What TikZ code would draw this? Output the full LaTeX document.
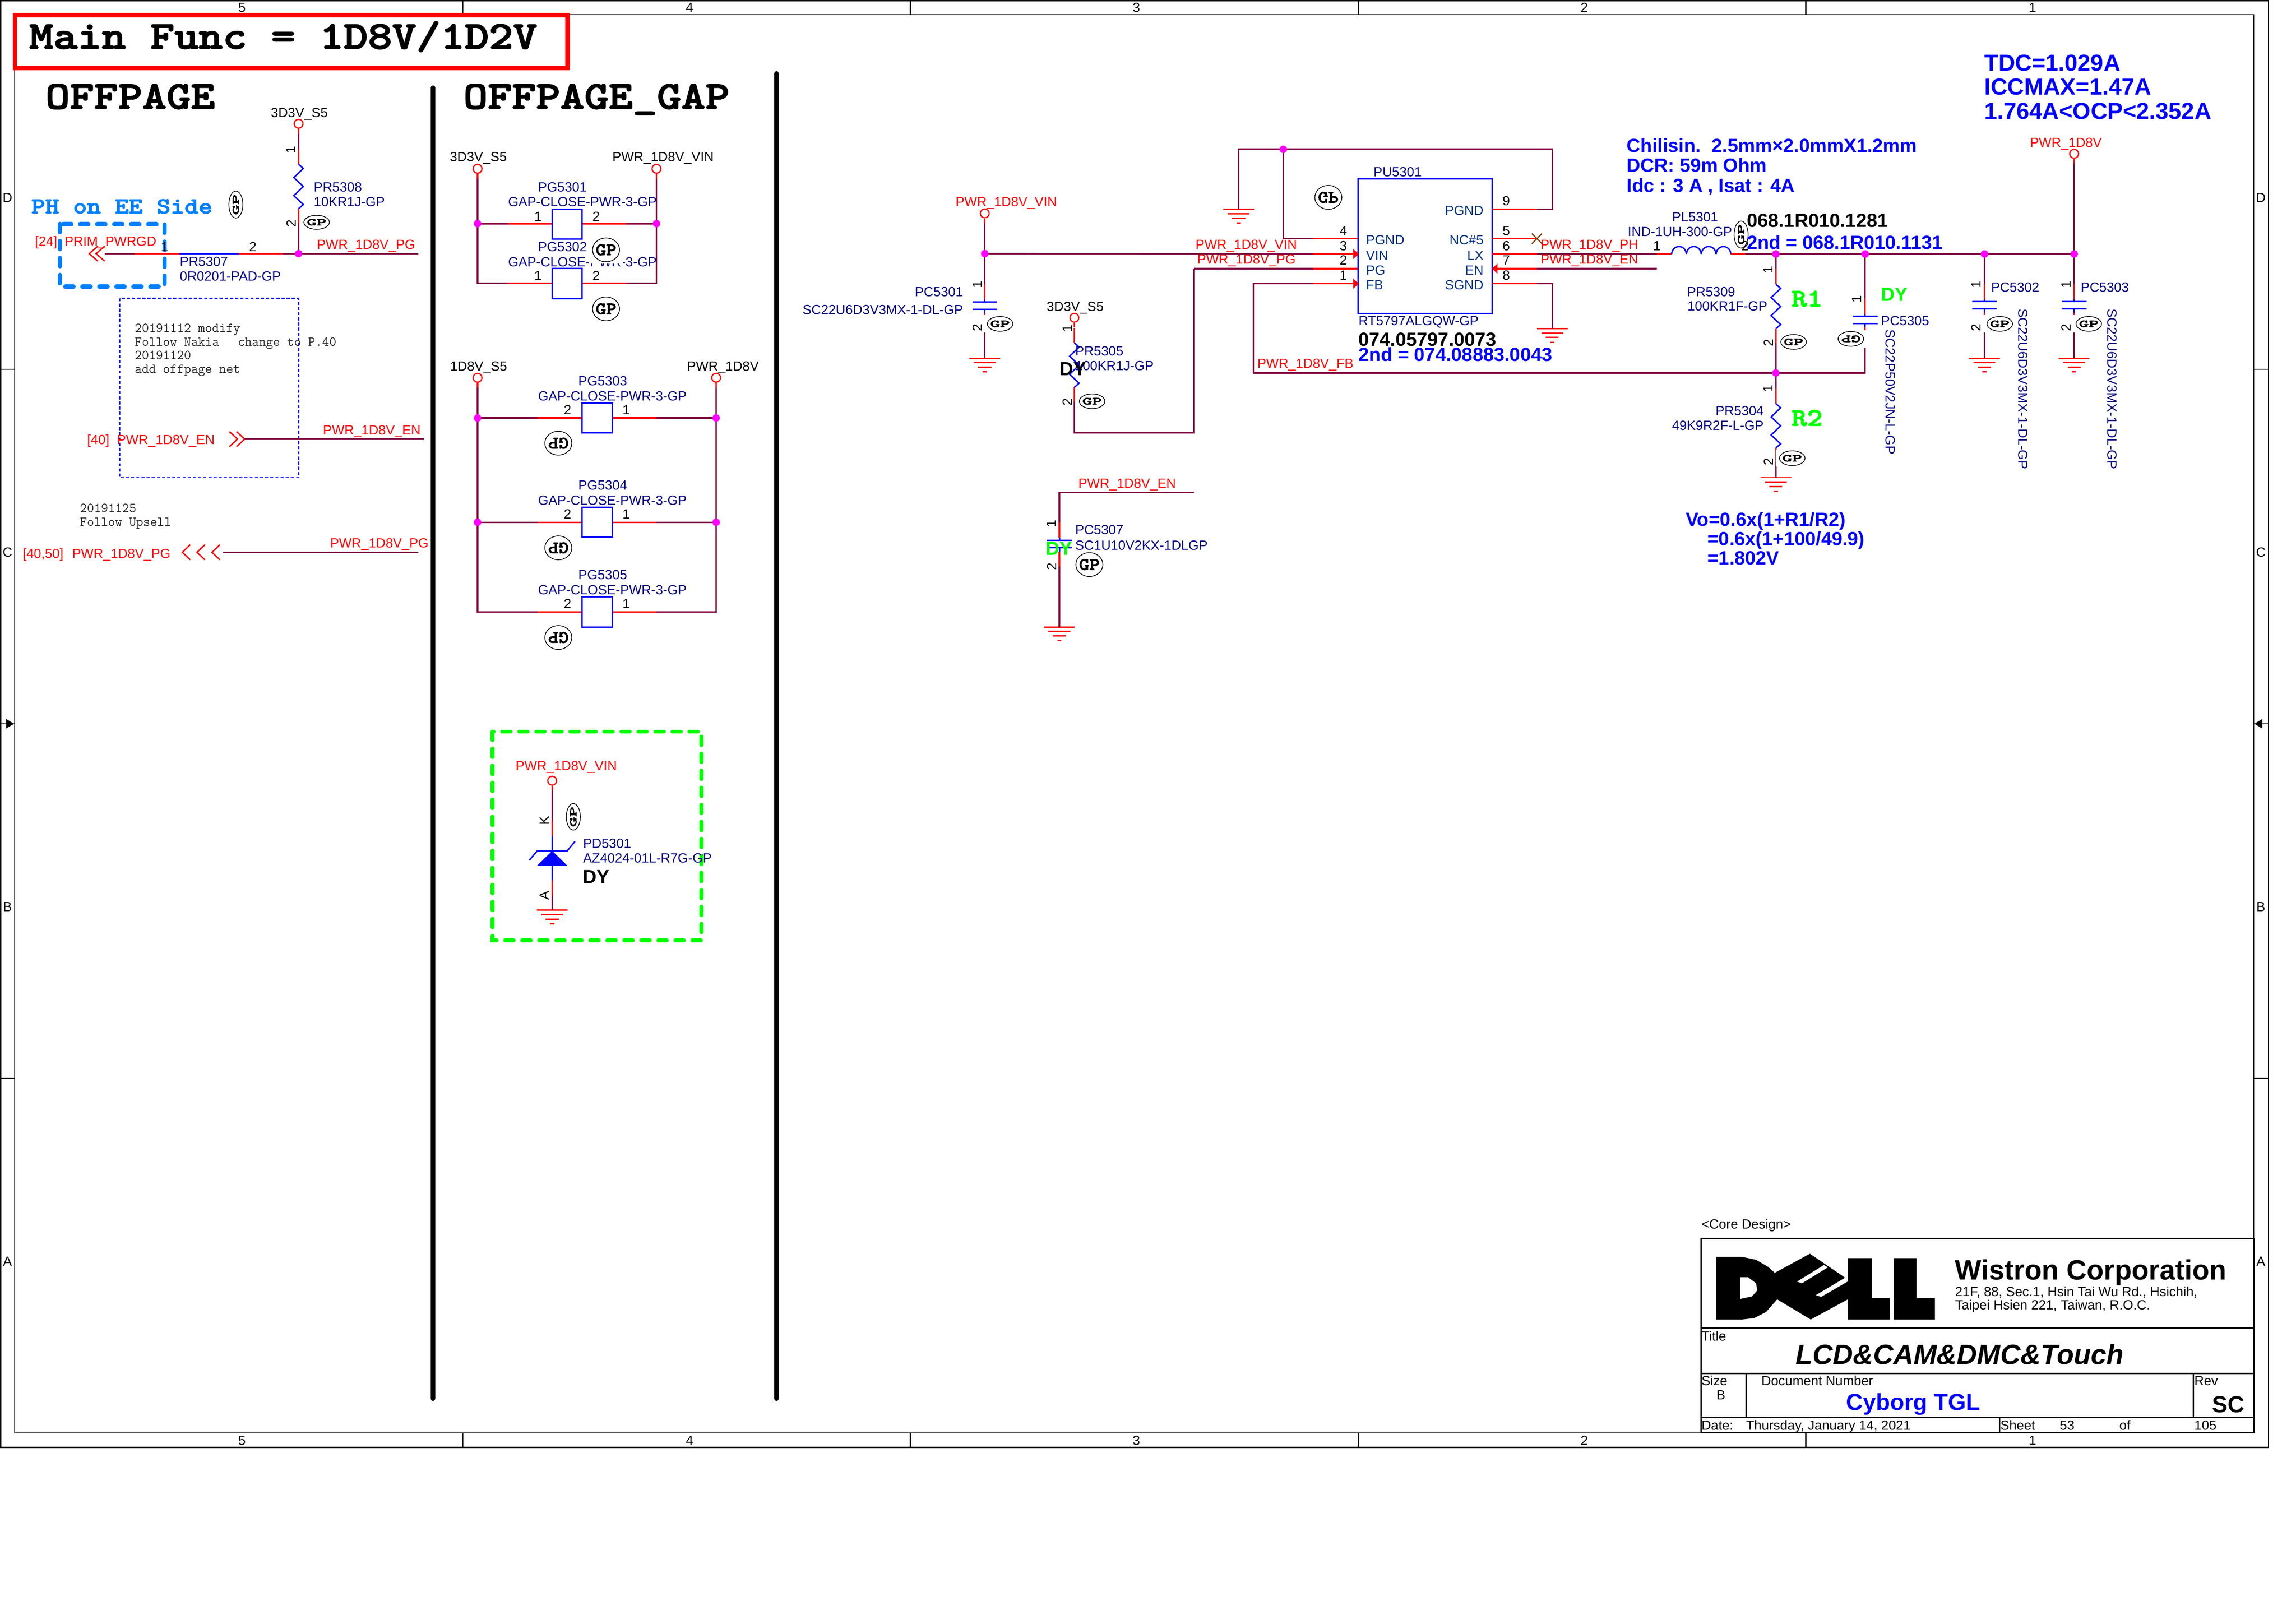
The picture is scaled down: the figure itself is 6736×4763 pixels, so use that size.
\documentclass[tikz,border=0pt]{standalone}
\usepackage{fontspec}
\setmainfont{Liberation Sans}
\newfontfamily\headfam{lmmonolt10-bold}[Extension=.otf,FakeBold=2.2]
\definecolor{wirecol}{HTML}{800040}
\definecolor{navyc}{HTML}{000080}
\definecolor{icblue}{HTML}{003380}
\definecolor{juncol}{HTML}{FF00FF}
\definecolor{skyc}{HTML}{0080FF}
\definecolor{grn}{HTML}{00FF00}
\definecolor{brownc}{HTML}{804000}
\newcommand\fa{\fontsize{11.1pt}{12pt}\selectfont}
\newcommand\fb{\fontsize{15.93pt}{17pt}\selectfont\bfseries}
\newcommand\fc{\fontsize{19.35pt}{20pt}\selectfont\bfseries}
\newcommand\fd{\fontsize{23.33pt}{24pt}\selectfont\bfseries}
\newcount\nn
\newcommand\T[4]{\global\advance\nn by 1 \node[#1] (t\the\nn) at (#2,#3) {#4};}
\tikzset{
 lab/.style={inner sep=0pt,anchor=base west},
 labr/.style={inner sep=0pt,anchor=base east},
 net/.style={lab,text=red,font=\fa},
 prt/.style={lab,text=navyc,font=\fa},
 prtr/.style={labr,text=navyc,font=\fa},
 prtd/.style={lab,rotate=-90,text=navyc,font=\fa},
 blk/.style={lab,text=black,font=\fa},
 ict/.style={lab,text=icblue,font=\fa},
 ictr/.style={labr,text=icblue,font=\fa},
 pinh/.style={inner sep=0pt,anchor=base,text=black,font=\fa},
 pinv/.style={inner sep=0pt,anchor=center,rotate=90,text=black,font=\fa},
 bbl/.style={lab,text=blue,font=\fb},
 bbk/.style={lab,text=black,font=\fb},
 bgr/.style={lab,text=grn,font=\fb},
 bcc/.style={lab,text=blue,font=\fc},
 note/.style={lab,text=black!85,font=\fontsize{11.38pt}{12pt}\selectfont\ttfamily},
 headf/.style={lab,xscale=1.165,transform shape,text=black,font=\fontsize{33pt}{35pt}\selectfont\headfam},
 skyf/.style={lab,xscale=1.165,transform shape,text=skyc,font=\fontsize{19pt}{20pt}\selectfont\headfam},
 rlab/.style={lab,xscale=1.165,transform shape,text=grn,font=\fontsize{21.2pt}{22pt}\selectfont\headfam},
 wire/.style={draw=wirecol,line width=1.25pt,line join=miter},
 stub/.style={draw=red,line width=1.25pt},
 comp/.style={draw=blue,line width=1.15pt,line join=miter},
 gndl/.style={draw=red,line width=1.1pt},
 frame/.style={draw=black,line width=1pt},
 tb/.style={draw=black,line width=1.15pt},
 port/.style={circle,draw=red,fill=white,line width=1pt,minimum size=0.26cm,inner sep=0pt},
 junc/.style={circle,fill=juncol,minimum size=0.22cm,inner sep=0pt},
 gapbox/.style={rectangle,draw=blue,fill=white,line width=1.15pt,minimum width=0.88cm,minimum height=0.88cm,inner sep=0pt},
 sep/.style={draw=black,line width=3.7pt,line cap=round},
 chev/.style={draw=red,line width=1.1pt,line join=miter},
 stampt/.style={inner sep=0pt,transform shape,text=black,font=\fontsize{15pt}{16pt}\selectfont\headfam},
}
\newcommand\Port[3]{\node[port] (#1) at (#2,#3) {};
 \coordinate (#1-s) at (#2,#3+29); \draw[stub] (#1.south) -- (#1-s);}
\newcommand\Res[3]{\coordinate (#1-t) at (#2,#3); \coordinate (#1-b) at (#2,#3+217);
 \draw[stub] (#1-t) -- (#2,#3+44);
 \draw[stub] (#2,#3+174) -- (#1-b);
 \draw[comp] (#2,#3+44)--(#2+14,#3+56)--(#2-14,#3+83)--(#2+14,#3+109)--(#2-14,#3+136)--(#2+14,#3+162)--(#2,#3+174);}
\newcommand\Cap[3]{\coordinate (#1-t) at (#2,#3); \coordinate (#1-b) at (#2,#3+130);
 \draw[stub] (#1-t) -- (#2,#3+45);
 \draw[stub] (#2,#3+85) -- (#1-b);
 \draw[comp] (#2,#3+45) -- (#2,#3+52);
 \draw[comp] (#2,#3+73) -- (#2,#3+85);
 \draw[comp] (#2-36,#3+52) -- (#2+36,#3+52);
 \draw[comp] (#2-36,#3+73) -- (#2+36,#3+73);}
\newcommand\Gnd[3]{\coordinate (#1) at (#2,#3);
 \draw[gndl] (#2-45,#3) -- (#2+45,#3);
 \draw[gndl] (#2-32,#3+13) -- (#2+32,#3+13);
 \draw[gndl] (#2-19,#3+26) -- (#2+19,#3+26);
 \draw[gndl] (#2-6,#3+40) -- (#2+6,#3+40);}
% x y rotate xscale yscale
\newcommand\Stamp[5]{\begin{scope}[shift={(#1,#2)},rotate=#3,xscale=#4,yscale=#5]
 \fill[white] (-0.46cm,-0.42cm) rectangle (0.46cm,0.42cm);
 \draw[black,line width=0.6pt] (0,0) circle [radius=0.36cm];
 \global\advance\nn by 1 \node[stampt] (t\the\nn) at (0,0) {GP};
 \end{scope}}
\newcommand\ChevL[3]{\draw[chev] (#1+#3,#2-22) -- (#1,#2) -- (#1+#3,#2+22);}
\newcommand\ChevR[3]{\draw[chev] (#1-#3,#2-22) -- (#1,#2) -- (#1-#3,#2+22);}
\begin{document}
\begin{tikzpicture}[x=0.01cm,y=-0.01cm]
\useasboundingbox (0,0) rectangle (6736,4763);
\fill[white] (0,0) rectangle (6736,4763);
% ---- sheet frame
\draw[frame] (2,2) rectangle (6655,4246);
\draw[frame] (43,43) rectangle (6612,4203);
\foreach \x in {1357,2671,3985,5298}{\draw[frame] (\x,2) -- (\x,43); \draw[frame] (\x,4203) -- (\x,4246);}
\foreach \y in {1083,2123,3163}{\draw[frame] (2,\y) -- (43,\y); \draw[frame] (6612,\y) -- (6655,\y);}
\fill[black] (18,2109) -- (41,2123) -- (18,2137) -- cycle;
\fill[black] (6637,2109) -- (6614,2123) -- (6637,2137) -- cycle;
\foreach \x/\t in {710/5,2023/4,3334/3,4648/2,5963/1}{
 \T{inner sep=0pt,text=black,font=\fa}{\x}{22}{\t}
 \T{inner sep=0pt,text=black,font=\fa}{\x}{4225}{\t}}
\foreach \y/\t in {580/D,1620/C,2660/B,3700/A}{
 \T{inner sep=0pt,text=black,font=\fa}{22}{\y}{\t}
 \T{inner sep=0pt,text=black,font=\fa}{6633}{\y}{\t}}
% ---- header
\node[rectangle,draw=red,fill=white,line width=3.55pt,outer sep=0pt,minimum width=16.2cm,minimum height=1.555cm,inner sep=0pt,anchor=north west] (headbox) at (44,44.5) {};
\T{headf}{85}{143}{Main Func = 1D8V/1D2V}
\T{headf}{133}{319}{OFFPAGE}
\T{headf}{1359}{319}{OFFPAGE\_GAP}
\coordinate (sepa-t) at (1270,257); \coordinate (sepa-b) at (1270,4103);
\coordinate (sepb-t) at (2278,215); \coordinate (sepb-b) at (2278,4103);
\draw[sep] (sepa-t) -- (sepa-b);
\draw[sep] (sepb-t) -- (sepb-b);
% ---- OFFPAGE column
\T{skyf}{91}{626}{PH on EE Side}
\draw[skyc,line width=3.7pt,line cap=round,dash pattern=on 6.8pt off 7.4pt] (176,657) rectangle (483,841);
\draw[blue,line width=1pt,dash pattern=on 2.6pt off 1.7pt] (351,875) rectangle (876,1401);
\Port{p3v}{876}{363}
\Res{pr08}{876}{438}
\coordinate (pgl) at (307,744); \coordinate (pgr) at (1227,744);
\coordinate (jpg) at (876,744);
\draw[wire] (p3v-s) -- (pr08-t);
\draw[wire] (pr08-b) -- (jpg);
\coordinate (pr07a) at (395,744); \coordinate (pr07b) at (830,744);
\draw[wire] (pgl) -- (pr07a);
\draw[wire] (pr07b) -- (pgr);
\draw[stub] (pr07a) -- (527,744);
\draw[stub] (700,744) -- (pr07b);
\draw[comp] (527,744) -- (700,744);
\ChevL{262}{744}{25}
\ChevL{282}{744}{25}
\T{blk}{794}{344}{3D3V\_S5}
\T{pinv}{854}{440}{1}
\T{pinv}{854}{655}{2}
\T{prt}{920}{562}{PR5308}
\T{prt}{920}{606}{10KR1J-GP}
\T{net}{102}{721}{[24]}
\T{net}{189}{721}{PRIM\_PWRGD}
\T{pinh}{483}{737}{1}
\T{pinh}{742}{737}{2}
\T{net}{929}{731}{PWR\_1D8V\_PG}
\T{prt}{527}{781}{PR5307}
\T{prt}{527}{824}{0R0201-PAD-GP}
\Stamp{692}{600}{90}{1.1}{0.57}
\Stamp{929}{652}{0}{1.04}{0.57}
\T{note}{395}{975}{20191112 modify}
\T{note}{395}{1015}{Follow Nakia\hspace{0.55cm}change to P.40}
\T{note}{395}{1054}{20191120}
\T{note}{395}{1094}{add offpage net}
\T{net}{255}{1304}{[40]}
\T{net}{343}{1304}{PWR\_1D8V\_EN}
\ChevR{697}{1288}{24}
\ChevR{718}{1288}{24}
\coordinate (enl) at (718,1288); \coordinate (enr) at (1244,1288);
\draw[wire] (enl) -- (enr);
\T{net}{947}{1275}{PWR\_1D8V\_EN}
\T{note}{234}{1503}{20191125}
\T{note}{234}{1543}{Follow Upsell}
\T{net}{66}{1637}{[40,50]}
\T{net}{211}{1637}{PWR\_1D8V\_PG}
\ChevL{535}{1620}{23}
\ChevL{578}{1620}{23}
\ChevL{622}{1620}{23}
\coordinate (pg2l) at (655,1620); \coordinate (pg2r) at (1227,1620);
\draw[wire] (pg2l) -- (pg2r);
\T{net}{968}{1607}{PWR\_1D8V\_PG}
% ---- OFFPAGE_GAP column
\T{blk}{1319}{474}{3D3V\_S5}
\T{blk}{1796}{474}{PWR\_1D8V\_VIN}
\Port{g1}{1401}{495}
\Port{g2}{1926}{495}
\coordinate (g1b) at (1401,831); \coordinate (g2b) at (1926,831);
\draw[wire] (g1-s) -- (g1b) -- (g2b) -- (g2-s);
\coordinate (j1a) at (1401,656);
\coordinate (j1b) at (1926,656);
\draw[wire] (j1a) -- (1490,656);
\draw[wire] (1838,656) -- (j1b);
\draw[stub] (1490,656) -- (1838,656);
\draw[stub] (1490,831) -- (1838,831);
\node[gapbox] (pg01) at (1664,657) {};
\node[gapbox] (pg02) at (1664,832) {};
\T{prt}{1578}{562}{PG5301}
\T{prt}{1490}{605}{GAP-CLOSE-PWR-3-GP}
\T{pinh}{1578}{648}{1}
\T{pinh}{1749}{648}{2}
\T{prt}{1578}{737}{PG5302}
\T{prt}{1490}{782}{GAP-CLOSE-PWR-3-GP}
\T{pinh}{1578}{823}{1}
\T{pinh}{1749}{823}{2}
\Stamp{1778}{733}{0}{1.1}{0.97}
\Stamp{1778}{906}{0}{1.1}{0.97}
\T{blk}{1320}{1088}{1D8V\_S5}
\T{blk}{2015}{1088}{PWR\_1D8V}
\Port{g3}{1401}{1108}
\Port{g4}{2101}{1108}
\coordinate (g3b) at (1401,1795); \coordinate (g4b) at (2101,1795);
\draw[wire] (g3-s) -- (g3b) -- (g4b) -- (g4-s);
\coordinate (j3a) at (1401,1226);
\coordinate (j3b) at (2101,1226);
\coordinate (j4a) at (1401,1532);
\coordinate (j4b) at (2101,1532);
\draw[wire] (j3a) -- (j3b);
\draw[wire] (j4a) -- (j4b);
\foreach \y in {1226,1532,1795}{\draw[stub] (1578,\y) -- (1925,\y);}
\node[gapbox] (pg03) at (1752,1226) {};
\node[gapbox] (pg04) at (1752,1532) {};
\node[gapbox] (pg05) at (1752,1795) {};
\foreach \a/\b/\c/\d in {1131/1175/1216/PG5303,1437/1481/1522/PG5304,1700/1744/1785/PG5305}{
 \T{prt}{1696}{\a}{\d}
 \T{prt}{1578}{\b}{GAP-CLOSE-PWR-3-GP}
 \T{pinh}{1665}{\c}{2}
 \T{pinh}{1837}{\c}{1}}
\Stamp{1638}{1300}{180}{1.1}{0.97}
\Stamp{1638}{1607}{180}{1.1}{0.97}
\Stamp{1638}{1870}{180}{1.1}{0.97}
% ---- protection diode
\draw[grn,line width=3.4pt,line cap=round,dash pattern=on 7pt off 7.2pt] (1445,2146) rectangle (2058,2758);
\T{net}{1512}{2260}{PWR\_1D8V\_VIN}
\Port{d1}{1620}{2290}
\coordinate (dk) at (1620,2407); \coordinate (da) at (1620,2626);
\Gnd{dg}{1620}{2670}
\draw[wire] (d1-s) -- (dk);
\draw[wire] (da) -- (dg);
\draw[stub] (dk) -- (1620,2452);
\draw[stub] (1620,2582) -- (da);
\draw[comp] (1620,2452) -- (1620,2496);
\draw[comp] (1620,2540) -- (1620,2582);
\draw[comp] (1553,2523) -- (1576,2496) -- (1664,2496) -- (1687,2468);
\fill[blue] (1620,2496) -- (1665,2540) -- (1575,2540) -- cycle;
\T{pinv}{1597}{2407}{K}
\T{pinv}{1597}{2627}{A}
\T{prt}{1710}{2488}{PD5301}
\T{prt}{1710}{2531}{AZ4024-01L-R7G-GP}
\T{bbk}{1710}{2591}{DY}
\Stamp{1682}{2396}{90}{1.08}{0.57}
% ---- input capacitor
\T{net}{2803}{605}{PWR\_1D8V\_VIN}
\Port{vin}{2889}{626}
\coordinate (jvin) at (2889,744);
\Cap{pc01}{2889}{834}
\Gnd{g01}{2889}{1051}
\draw[wire] (vin-s) -- (pc01-t);
\draw[wire] (pc01-b) -- (g01);
\T{pinv}{2867}{835}{1}
\T{pinv}{2867}{961}{2}
\T{prtr}{2826}{869}{PC5301}
\T{prtr}{2826}{922}{SC22U6D3V3MX-1-DL-GP}
\Stamp{2934}{950}{0}{1.04}{0.6}
% ---- pull-up
\T{blk}{3070}{913}{3D3V\_S5}
\Port{p5v}{3152}{932}
\Res{pr05}{3152}{962}
\coordinate (pgc) at (3152,1269); \coordinate (pgd) at (3502,1269); \coordinate (pge) at (3502,788);
\draw[wire] (pr05-b) -- (pgc) -- (pgd) -- (pge);
\T{pinv}{3132}{964}{1}
\T{pinv}{3132}{1179}{2}
\T{prt}{3154}{1044}{PR5305}
\T{prt}{3154}{1087}{100KR1J-GP}
\T{bbk}{3108}{1101}{DY}
\Stamp{3204}{1177}{0}{1.04}{0.6}
% ---- IC
\node[rectangle,draw=blue,fill=white,line width=1.15pt,minimum width=3.94cm,minimum height=3.94cm,inner sep=0pt] (pu) at (4181,722) {};
\coordinate (topl) at (3634,438); \coordinate (topr) at (4554,438);
\coordinate (jtop) at (3765,438);
\Gnd{g02}{3634}{614}
\draw[wire] (g02) -- (topl) -- (topr) -- (4554,614) -- (4509,614);
\draw[stub] (4509,614) -- (4378,614);
\draw[wire] (jtop) -- (3765,700) -- (3853,700);
\draw[stub] (3853,700) -- (3984,700);
\draw[wire] (jvin) -- (3853,745);
\draw[stub] (3853,745) -- (3970,745);
\fill[red] (3986,745) -- (3970,730) -- (3970,760) -- cycle;
\draw[wire] (pge) -- (3853,788);
\draw[stub] (3853,788) -- (3984,788);
\coordinate (fba) at (3677,1094); \coordinate (fbb) at (3677,832);
\draw[wire] (fba) -- (fbb) -- (3853,832);
\draw[stub] (3853,832) -- (3970,832);
\fill[red] (3986,832) -- (3970,817) -- (3970,847) -- cycle;
\draw[stub] (4378,700) -- (4509,700);
\draw[brownc,line width=1pt] (4494,685) -- (4524,715);
\draw[brownc,line width=1pt] (4494,715) -- (4524,685);
\draw[stub] (4378,745) -- (4509,745);
\coordinate (lxa) at (4509,745); \coordinate (lxb) at (4861,745);
\draw[wire] (lxa) -- (lxb);
\draw[stub] (4393,788) -- (4509,788);
\fill[red] (4377,788) -- (4393,773) -- (4393,803) -- cycle;
\coordinate (ena) at (4509,788); \coordinate (enb) at (4861,788);
\draw[wire] (ena) -- (enb);
\draw[stub] (4378,832) -- (4509,832);
\Gnd{g03}{4554}{964}
\draw[wire] (4509,832) -- (4554,832) -- (g03);
\T{prt}{4029}{518}{PU5301}
\T{prt}{3985}{955}{RT5797ALGQW-GP}
\T{bbk}{3985}{1015}{074.05797.0073}
\T{bbl}{3985}{1059}{2nd = 074.08883.0043}
\T{ict}{4007}{718}{PGND}
\T{ict}{4007}{763}{VIN}
\T{ict}{4007}{806}{PG}
\T{ict}{4007}{850}{FB}
\T{ictr}{4353}{631}{PGND}
\T{ictr}{4353}{718}{NC\#5}
\T{ictr}{4353}{763}{LX}
\T{ictr}{4353}{806}{EN}
\T{ictr}{4353}{850}{SGND}
\T{pinh}{3941}{690}{4}
\T{pinh}{3941}{735}{3}
\T{pinh}{3941}{777}{2}
\T{pinh}{3941}{821}{1}
\T{pinh}{4419}{603}{9}
\T{pinh}{4419}{690}{5}
\T{pinh}{4419}{735}{6}
\T{pinh}{4419}{777}{7}
\T{pinh}{4419}{821}{8}
\T{net}{3507}{731}{PWR\_1D8V\_VIN}
\T{net}{3512}{774}{PWR\_1D8V\_PG}
\T{net}{3688}{1080}{PWR\_1D8V\_FB}
\T{net}{4519}{731}{PWR\_1D8V\_PH}
\T{net}{4519}{774}{PWR\_1D8V\_EN}
\Stamp{3897}{579}{0}{1.1}{-0.97}
% ---- output stage
\T{bbl}{4772}{446}{Chilisin.\ \ 2.5mm×2.0mmX1.2mm}
\T{bbl}{4772}{505}{DCR: 59m Ohm}
\T{bbl}{4772}{564}{Idc : 3 A , Isat : 4A}
\draw[stub] (lxb) -- (4904,745);
\coordinate (lout) at (5121,745);
\foreach \i in {0,1,2,3}{\draw[comp] (4904+43.5*\i,745) .. controls (4907+43.5*\i,716) and (4944.5+43.5*\i,716) .. (4947.5+43.5*\i,745);}
\draw[stub] (5078,745) -- (lout);
\coordinate (jl1) at (5210,745);
\coordinate (jl2) at (5472,745);
\coordinate (jl3) at (5822,745);
\coordinate (jl4) at (6085,745);
\coordinate (jfb) at (5210,1094);
\draw[wire] (lout) -- (jl4);
\Res{pr09}{5210}{790}
\Res{pr04}{5210}{1140}
\Gnd{g04}{5210}{1401}
\draw[wire] (jl1) -- (pr09-t);
\draw[wire] (pr09-b) -- (jfb);
\draw[wire] (jfb) -- (pr04-t);
\draw[wire] (pr04-b) -- (g04);
\draw[wire] (fba) -- (jfb);
\Cap{pc05}{5472}{876}
\coordinate (c5b) at (5472,1094);
\draw[wire] (jl2) -- (pc05-t);
\draw[wire] (pc05-b) -- (c5b) -- (jfb);
\T{pinh}{4861}{735}{1}
\T{prt}{4905}{650}{PL5301}
\T{prt}{4775}{693}{IND-1UH-300-GP}
\Stamp{5108}{688}{90}{1.1}{0.57}
\T{pinh}{5120}{735}{2}
\T{bbk}{5124}{666}{068.1R010.1281}
\T{bbl}{5124}{731}{2nd = 068.1R010.1131}
\T{pinv}{5188}{792}{1}
\T{pinv}{5188}{1006}{2}
\T{pinv}{5188}{1140}{1}
\T{pinv}{5188}{1355}{2}
\T{prt}{4949}{869}{PR5309}
\T{prt}{4950}{912}{100KR1F-GP}
\T{prtr}{5175}{1219}{PR5304}
\T{prtr}{5175}{1262}{49K9R2F-L-GP}
\T{rlab}{5255}{899}{R1}
\T{rlab}{5255}{1249}{R2}
\Stamp{5262}{1003}{0}{1.04}{0.6}
\Stamp{5258}{1344}{0}{1.04}{0.6}
\Stamp{5430}{994}{180}{1.04}{0.6}
\T{pinv}{5448}{878}{1}
\T{bgr}{5518}{883}{DY}
\T{prt}{5518}{954}{PC5305}
\T{prtd}{5532}{966}{SC22P50V2JN-L-GP}
% ---- output capacitors
\T{bcc}{5821}{208}{TDC=1.029A}
\T{bcc}{5821}{278}{ICCMAX=1.47A}
\T{bcc}{5821}{350}{1.764A<OCP<2.352A}
\T{net}{5955}{432}{PWR\_1D8V}
\Port{vout}{6085}{451}
\draw[wire] (vout-s) -- (jl4);
\Cap{pc02}{5822}{833}
\Cap{pc03}{6085}{833}
\Gnd{g05}{5822}{1051}
\Gnd{g06}{6085}{1051}
\draw[wire] (jl3) -- (pc02-t);
\draw[wire] (jl4) -- (pc03-t);
\draw[wire] (pc02-b) -- (g05);
\draw[wire] (pc03-b) -- (g06);
\T{pinv}{5798}{835}{1}
\T{pinv}{5798}{961}{2}
\T{pinv}{6062}{835}{1}
\T{pinv}{6062}{961}{2}
\T{prt}{5841}{856}{PC5302}
\T{prt}{6104}{856}{PC5303}
\T{prtd}{5922}{905}{SC22U6D3V3MX-1-DL-GP}
\T{prtd}{6183}{905}{SC22U6D3V3MX-1-DL-GP}
\Stamp{5867}{950}{0}{1.04}{0.6}
\Stamp{6128}{950}{0}{1.04}{0.6}
\T{bbl}{4945}{1543}{Vo=0.6x(1+R1/R2)}
\T{bbl}{5009}{1600}{=0.6x(1+100/49.9)}
\T{bbl}{5009}{1656}{=1.802V}
% ---- enable capacitor
\coordinate (ecr) at (3502,1445); \coordinate (ecl) at (3108,1445);
\Cap{pc07}{3108}{1533}
\Gnd{g07}{3108}{1839}
\draw[wire] (ecr) -- (ecl) -- (pc07-t);
\draw[wire] (pc07-b) -- (g07);
\T{net}{3163}{1431}{PWR\_1D8V\_EN}
\T{pinv}{3085}{1536}{1}
\T{pinv}{3085}{1662}{2}
\T{prt}{3154}{1568}{PC5307}
\T{prt}{3154}{1613}{SC1U10V2KX-1DLGP}
\T{bgr}{3067}{1628}{DY}
\Stamp{3196}{1656}{0}{1.1}{0.97}
% ---- junction dots, over the wires
\foreach \j in {jpg,j1a,j1b,j3a,j3b,j4a,j4b,jvin,jtop,jl1,jl2,jl3,jl4,jfb}{\node[junc] (\j-dot) at (\j) {};}
% ---- title block
\T{blk}{4991}{3604}{<Core Design>}
\draw[tb] (4991,3633) rectangle (6612,4203);
\draw[tb] (4991,3896) -- (6612,3896);
\draw[tb] (4991,4029) -- (6612,4029);
\draw[tb] (4991,4158) -- (6612,4158);
\draw[tb] (5122,4029) -- (5122,4158);
\draw[tb] (6435,4029) -- (6435,4158);
\draw[tb] (5866,4158) -- (5866,4203);
\begin{scope}[shift={(4900,3550)},xscale=1.171,yscale=0.5102]
\fill[black] (115,268)--(180,268)--(215,285)--(245,325)--(262,360)--(350,250)--(430,375)--(445,400)--(445,512)--(352,628)--(268,512)--(240,585)--(210,620)--(180,628)--(115,628)--cycle;
\fill[white] (175,385)--(195,385)--(215,420)--(218,460)--(205,495)--(175,510)--cycle;
\fill[white] (385,315)--(395,328)--(330,420)--(318,410)--cycle;
\fill[white] (438,388)--(448,405)--(378,498)--(365,488)--cycle;
\fill[black] (445,275)--(505,275)--(505,505)--(550,505)--(550,628)--(445,628)--cycle;
\fill[black] (560,275)--(617,275)--(617,505)--(663,505)--(663,628)--(560,628)--cycle;
\end{scope}
\T{lab,text=black,font=\fd}{5735}{3754}{Wistron Corporation}
\T{blk}{5735}{3802}{21F, 88, Sec.1, Hsin Tai Wu Rd., Hsichih,}
\T{blk}{5735}{3842}{Taipei Hsien 221, Taiwan, R.O.C.}
\T{blk}{4991}{3933}{Title}
\T{lab,text=black,font=\fd\itshape}{5267}{4002}{LCD\&CAM\&DMC\&Touch}
\T{blk}{4991}{4064}{Size}
\T{blk}{5035}{4106}{B}
\T{blk}{5167}{4064}{Document Number}
\T{bcc}{5416}{4137}{Cyborg TGL}
\T{blk}{6437}{4064}{Rev}
\T{lab,text=black,font=\fc}{6490}{4143}{SC}
\T{blk}{4991}{4195}{Date:}
\T{blk}{5122}{4195}{Thursday, January 14, 2021}
\T{blk}{5868}{4195}{Sheet}
\T{blk}{6042}{4195}{53}
\T{blk}{6217}{4195}{of}
\T{blk}{6437}{4195}{105}
\end{tikzpicture}
\end{document}
